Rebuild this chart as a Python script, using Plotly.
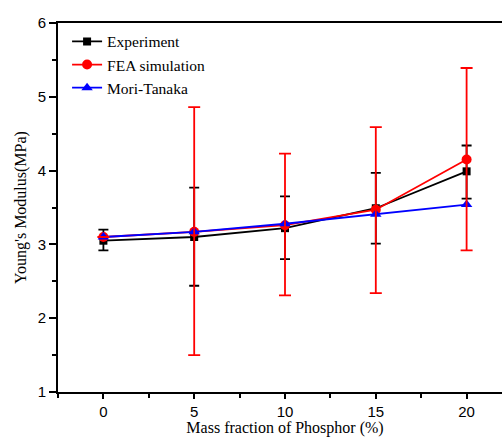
import plotly.graph_objects as go

mass = [0, 5, 10, 15, 20]
exp_y = [3.05, 3.10, 3.22, 3.49, 3.99]
exp_hi = [3.20, 3.77, 3.65, 3.97, 4.34]
exp_lo = [2.92, 2.44, 2.80, 3.01, 3.62]
fea_y = [3.10, 3.17, 3.26, 3.47, 4.15]
fea_hi = [3.10, 4.86, 4.23, 4.59, 5.39]
fea_lo = [3.10, 1.50, 2.31, 2.34, 2.92]
mt_y = [3.10, 3.17, 3.28, 3.41, 3.54]

def plus(v, hi):
    return [h - a for a, h in zip(v, hi)]

def minus(v, lo):
    return [a - l for a, l in zip(v, lo)]

fig = go.Figure()
fig.add_trace(go.Scatter(
    x=mass, y=exp_y, name="Experiment", mode="lines+markers",
    line=dict(color="black", width=1.8),
    marker=dict(symbol="square", size=8, color="black"),
    error_y=dict(type="data", symmetric=False, array=plus(exp_y, exp_hi),
                 arrayminus=minus(exp_y, exp_lo), color="black", thickness=1.8, width=5),
))
fig.add_trace(go.Scatter(
    x=mass, y=fea_y, name="FEA simulation", mode="lines+markers",
    line=dict(color="red", width=1.8),
    marker=dict(symbol="circle", size=10, color="red"),
))
fig.add_trace(go.Scatter(
    x=mass, y=mt_y, name="Mori-Tanaka", mode="lines+markers",
    line=dict(color="blue", width=1.8),
    marker=dict(symbol="triangle-up", size=10, color="blue"),
))
fig.add_trace(go.Scatter(
    x=mass, y=fea_y, mode="markers", showlegend=False, hoverinfo="skip",
    marker=dict(size=1, color="rgba(0,0,0,0)"),
    error_y=dict(type="data", symmetric=False, array=plus(fea_y, fea_hi),
                 arrayminus=minus(fea_y, fea_lo), color="red", thickness=1.8, width=6),
))

tickfont = dict(family="Liberation Sans", size=15, color="black")
titlefont = dict(family="Liberation Serif", size=16, color="black")

fig.update_layout(
    width=512, height=437,
    margin=dict(l=58, r=0, t=23, b=45),
    plot_bgcolor="white", paper_bgcolor="white",
    showlegend=True,
    legend=dict(x=0.02, y=0.995, xanchor="left", yanchor="top",
                font=dict(family="Liberation Serif", size=15.5, color="black"),
                bgcolor="rgba(0,0,0,0)", tracegroupgap=0, itemwidth=30),
    xaxis=dict(range=[-2.5, 22.5], tickmode="linear", tick0=0, dtick=5,
               showline=True, linecolor="black", linewidth=2, mirror=True,
               ticks="outside", ticklen=5, tickwidth=1.5, tickcolor="black",
               minor=dict(dtick=2.5, tick0=0, ticks="outside", ticklen=4, tickwidth=1.5, tickcolor="black"),
               showgrid=False, zeroline=False, tickfont=tickfont,
               title=dict(text="Mass fraction of Phosphor (%)", font=titlefont, standoff=6)),
    yaxis=dict(range=[1, 6], tickmode="linear", tick0=1, dtick=1,
               showline=True, linecolor="black", linewidth=2,
               ticks="outside", ticklen=7, tickwidth=1.5, tickcolor="black",
               minor=dict(dtick=0.5, ticks="outside", ticklen=4, tickwidth=1.5, tickcolor="black"),
               showgrid=False, zeroline=False, tickfont=tickfont,
               title=dict(text="Young's Modulus(MPa)", font=titlefont, standoff=7)),
)

fig.write_html("out.html", config={"displayModeBar": False},
               post_script="document.body.style.margin='0';document.body.style.overflow='hidden';"
                           "document.documentElement.style.overflow='hidden';")
